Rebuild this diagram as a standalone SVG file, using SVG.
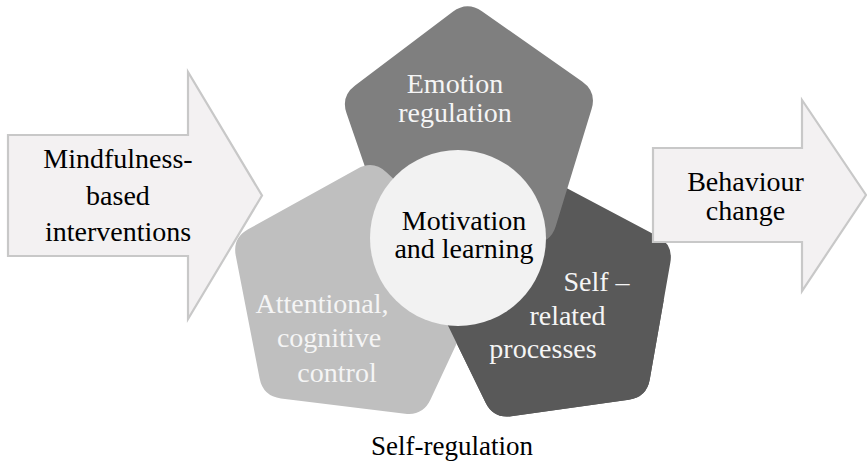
<svg xmlns="http://www.w3.org/2000/svg" width="867" height="464" viewBox="0 0 867 464">
<style>
text{font-family:"Liberation Serif","Times New Roman",serif;font-size:28px;text-anchor:middle}
.dk{fill:#000}
.wt{fill:#f5f5f5}
.arrow{fill:#f3f1f2;stroke:#c8c8c8;stroke-width:2.2;stroke-linejoin:miter}
</style>
<defs>
<path id="pDark" d="M670.35,262.54 L649.75,379.44 Q646.62,397.17 628.80,399.67 L511.24,416.20 Q493.42,418.70 485.53,402.52 L433.49,295.83 Q425.60,279.65 438.55,267.15 L523.94,184.68 Q536.89,172.18 552.78,180.63 L657.59,236.36 Q673.48,244.81 670.35,262.54 Z"/>
<clipPath id="lowClip"><rect x="0" y="300" width="867" height="164"/></clipPath>
</defs>
<rect width="867" height="464" fill="#fff"/>
<g id="self-related-base">
<use href="#pDark" fill="#595959"/>
</g>
<g id="emotion-regulation">
<path fill="#7f7f7f" d="M481.90,11.25 L582.11,81.42 Q596.86,91.75 591.60,108.97 L555.83,225.96 Q550.57,243.18 532.57,243.49 L410.24,245.63 Q392.24,245.94 386.38,228.92 L346.55,113.24 Q340.69,96.22 355.07,85.38 L452.77,11.76 Q467.15,0.92 481.90,11.25 Z"/>
</g>
<g id="attentional-control">
<path fill="#bfbfbf" d="M235.77,255.77 L259.64,378.52 Q263.07,396.19 280.94,398.38 L405.05,413.63 Q422.92,415.82 430.53,399.51 L483.37,286.17 Q490.98,269.86 477.82,257.58 L386.36,172.30 Q373.20,160.02 357.46,168.75 L248.08,229.37 Q232.34,238.10 235.77,255.77 Z"/>
</g>
<g id="self-related">
<use href="#pDark" fill="#595959" clip-path="url(#lowClip)"/>
</g>
<g id="motivation-learning">
<circle cx="458" cy="238" r="88" fill="#f2f2f2"/>
</g>
<g id="connectors">
<polygon id="arrow-in" class="arrow" points="8,135 188,135 188,72 262,195.5 188,319 188,256 8,256"/>
<polygon id="arrow-out" class="arrow" points="653,148 802,148 802,100 866,195 802,291 802,242 653,242"/>
</g>
<g id="labels">
<text class="dk" x="118" y="168">Mindfulness-</text>
<text class="dk" x="118" y="205">based</text>
<text class="dk" x="118" y="241">interventions</text>
<text class="dk" x="745.5" y="191">Behaviour</text>
<text class="dk" x="745.5" y="220">change</text>
<text class="wt" x="455" y="93">Emotion</text>
<text class="wt" x="455" y="122">regulation</text>
<text class="dk" x="464" y="230">Motivation</text>
<text class="dk" x="464" y="258">and learning</text>
<text class="wt" x="322" y="313">Attentional,</text>
<text class="wt" x="329" y="347">cognitive</text>
<text class="wt" x="337" y="382">control</text>
<text class="wt" x="596.5" y="291">Self –</text>
<text class="wt" x="567.5" y="325">related</text>
<text class="wt" x="543" y="358">processes</text>
<text class="dk" x="452" y="455" style="font-size:27px">Self-regulation</text>
</g>
</svg>
